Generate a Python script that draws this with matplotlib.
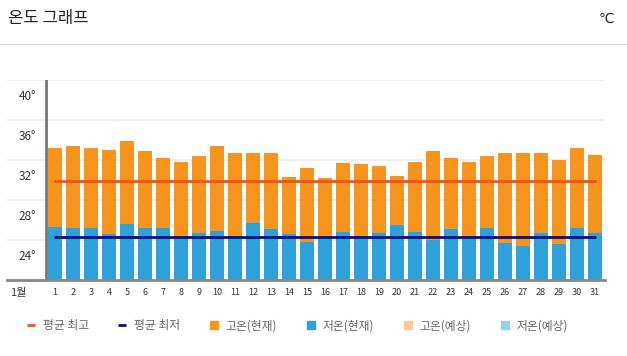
import matplotlib
matplotlib.use('Agg')
from matplotlib import pyplot as plt
from matplotlib.lines import Line2D

plt.rcParams['font.family'] = ['Noto Sans CJK KR', 'DejaVu Sans']

# 1월 일별 기온
days = list(range(1, 32))
high_now = [33.2, 33.4, 33.2, 33.0, 33.9, 32.9, 32.2, 31.8, 32.4, 33.4,
            32.7, 32.7, 32.7, 30.3, 31.2, 30.2, 31.7, 31.6, 31.4, 30.4,
            31.8, 32.9, 32.2, 31.8, 32.4, 32.7, 32.7, 32.7, 32.0, 33.2, 32.5]
low_now = [25.3, 25.2, 25.2, 24.6, 25.6, 25.2, 25.2, 24.4, 24.7, 24.9,
           24.4, 25.7, 25.1, 24.6, 23.8, 24.4, 24.8, 24.4, 24.7, 25.5,
           24.8, 24.0, 25.1, 24.4, 25.2, 23.7, 23.4, 24.7, 23.6, 25.2, 24.7]
avg_high = 29.9
avg_low = 24.3
y_ticks = [24, 28, 32, 36, 40]
y_min = 20

legend_labels = ['평균 최고', '평균 최저', '고온(현재)', '저온(현재)', '고온(예상)', '저온(예상)']

ORANGE = '#F7941E'
BLUE = '#2EA0DA'
RED = '#F0521C'
NAVY = '#0C0A8A'
LIGHT_ORANGE = '#FBCB95'
LIGHT_BLUE = '#94D0EE'


def main():
    W, H = 627, 356
    fig = plt.figure(figsize=(W / 100, H / 100), dpi=100)

    # header
    fig.text(8 / W, 1 - 19 / H, '온도 그래프', fontsize=12, color='#222', va='center', ha='left')
    fig.text(614 / W, 1 - 19 / H, '℃', fontsize=10, color='#222', va='center', ha='right',
             family=['DejaVu Sans'])
    fig.add_artist(Line2D([0, 1], [1 - 44 / H, 1 - 44 / H], color='#DDDDDD', lw=1))

    ax = fig.add_axes([7 / W, 76 / H, 598 / W, 200 / H])
    pitch = 18
    x_left = days[0] + (7 - 55) / pitch
    x_right = days[0] + (605 - 55) / pitch
    ax.set_xlim(x_left, x_right)
    ax.set_ylim(y_min, y_ticks[-1])

    for v in y_ticks:
        ax.axhline(v, color='#EEEEEE', lw=1.5, zorder=0)
        ax.text(days[0] - 1.06, v - 1.6, f'{v}°', ha='right', va='center', fontsize=8.5, color='#333')

    ax.bar(days, [h - y_min for h in high_now], bottom=y_min, width=0.78, color=ORANGE, zorder=2)
    ax.bar(days, [l - y_min for l in low_now], bottom=y_min, width=0.78, color=BLUE, zorder=3)

    ax.hlines(avg_high, days[0] - 0.05, days[-1] + 0.05, color=RED, lw=2, zorder=4)
    ax.hlines(avg_low, days[0] - 0.05, days[-1] + 0.05, color=NAVY, lw=2, zorder=4)

    ax.axvline(days[0] - 0.5, color='#777777', lw=2, zorder=5)

    for s in ['top', 'right', 'left']:
        ax.spines[s].set_visible(False)
    ax.spines['bottom'].set_color('#888888')
    ax.spines['bottom'].set_linewidth(2)
    ax.spines['bottom'].set_zorder(6)

    ax.set_yticks([])
    ax.set_xticks(days)
    ax.set_xticklabels([str(d) for d in days], fontsize=6.5, color='#333')
    ax.tick_params(axis='x', length=0, pad=6)
    fig.text(18 / W, 1 - 293 / H, '1월', fontsize=8, color='#333', ha='center', va='center')

    handles = [
        Line2D([], [], color=RED, marker='_', linestyle='none', markersize=6, mew=2),
        Line2D([], [], color=NAVY, marker='_', linestyle='none', markersize=6, mew=2),
        Line2D([], [], color=ORANGE, marker='s', linestyle='none', markersize=5.5),
        Line2D([], [], color=BLUE, marker='s', linestyle='none', markersize=5.5),
        Line2D([], [], color=LIGHT_ORANGE, marker='s', linestyle='none', markersize=5.5),
        Line2D([], [], color=LIGHT_BLUE, marker='s', linestyle='none', markersize=5.5),
    ]
    leg = fig.legend(handles, legend_labels, loc='center', bbox_to_anchor=(0.473, 1 - 326 / H),
                     ncol=6, frameon=False, fontsize=8.5, handlelength=1, handletextpad=0.5,
                     columnspacing=2.35)
    for t in leg.get_texts():
        t.set_color('#666666')

    plt.savefig('out.png', dpi=100)


if __name__ == '__main__':
    main()
